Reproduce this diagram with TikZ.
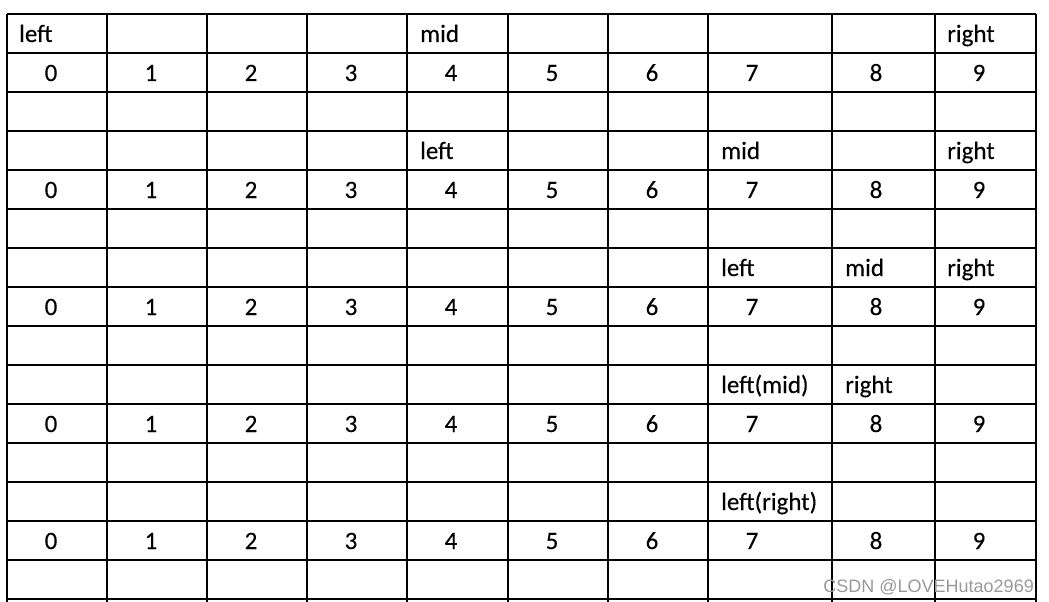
\documentclass[tikz,border=0pt]{standalone}
\usepackage{fontspec}
\setmainfont[FakeBold=0.2]{Carlito}
\newfontfamily\wmfont{Liberation Sans}
\begin{document}
\begin{tikzpicture}[x=1pt,y=-1pt,
        grid/.style={line width=1.2pt},
        cell/.style={font=\fontsize{25}{29}\selectfont, inner sep=0pt},
        lbl/.style={cell, anchor=base west},
        num/.style={cell, anchor=base}]
    \useasboundingbox (0,0) rectangle (1049,602);
    % table lines
    \foreach \x in {7,107,207,307,407,508,608,708,832,935,1036}
        \draw[grid] (\x,14) -- (\x,602);
    \foreach \r in {0,...,15}
        \draw[grid] (7,{14+39*\r}) -- (1036,{14+39*\r});
    % index rows
    \foreach \r in {1,4,7,10,13}
        \foreach \x/\d in {51/0,151/1,251/2,351/3,451/4,552/5,652/6,752/7,876/8,979/9}
            \node[num] (n\r-\d) at (\x,{42+39*\r}) {\d};
    % pointers
    \node[lbl] (l0) at (19,42) {left};
    \node[lbl] (m0) at (420,42) {mid};
    \node[lbl] (r0) at (947,42) {right};
    \node[lbl] (l1) at (420,159) {left};
    \node[lbl] (m1) at (721,159) {mid};
    \node[lbl] (r1) at (947,159) {right};
    \node[lbl] (l2) at (721,276) {left};
    \node[lbl] (m2) at (845,276) {mid};
    \node[lbl] (r2) at (947,276) {right};
    \node[lbl] (l3) at (721,393) {left(mid)};
    \node[lbl] (r3) at (845,393) {right};
    \node[lbl] (l4) at (721,510) {left(right)};
    \node[anchor=base east, inner sep=0pt, text=black!40, font=\wmfont\fontsize{18}{20}\selectfont] (wm) at (1034,592) {CSDN @LOVEHutao2969};
\end{tikzpicture}
\end{document}
